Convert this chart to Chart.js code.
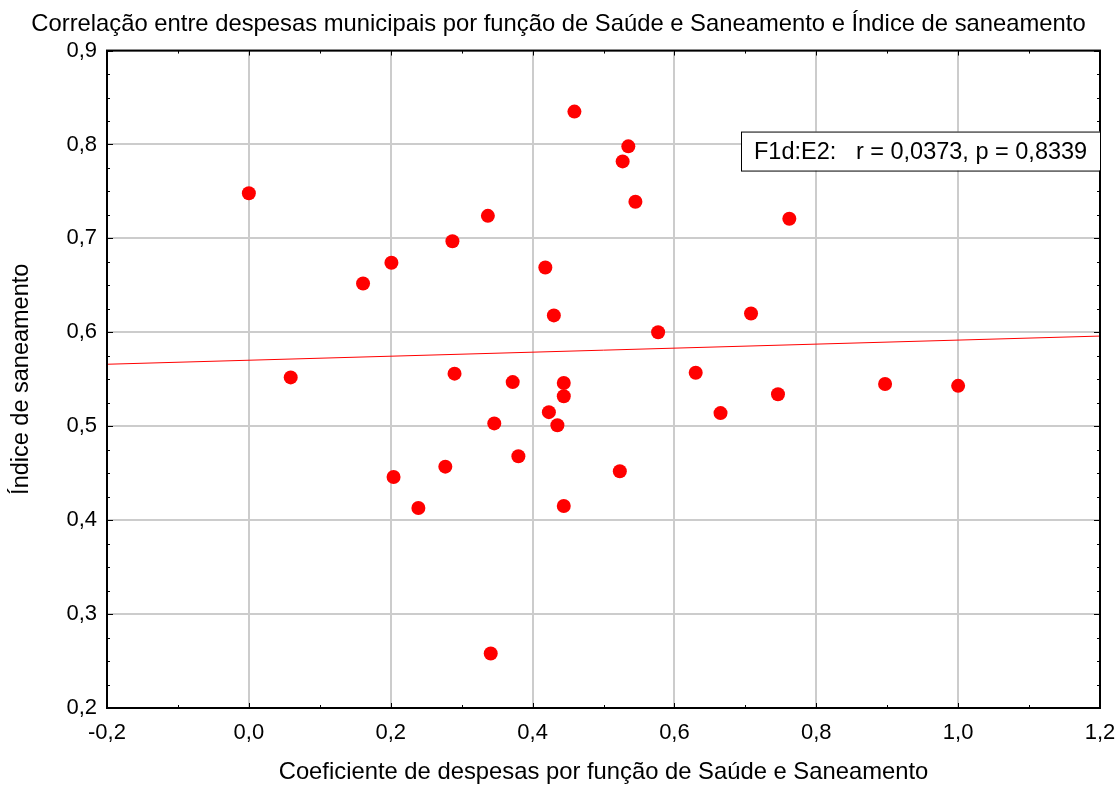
<!DOCTYPE html>
<html>
<head>
<meta charset="utf-8">
<script src="https://cdn.jsdelivr.net/npm/chart.js@4/dist/chart.umd.min.js"></script>
<style>
  html, body { margin: 0; padding: 0; background: #fff; }
  canvas { display: block; }
</style>
</head>
<body>
<canvas id="scatterChart" width="1117" height="787"></canvas>
<script>
// values
const xValues = [0.000, 0.059, 0.161, 0.201, 0.204, 0.239, 0.277, 0.287, 0.290, 0.337,
                 0.341, 0.346, 0.372, 0.380, 0.418, 0.423, 0.430, 0.435, 0.444, 0.444,
                 0.444, 0.459, 0.523, 0.527, 0.535, 0.545, 0.577, 0.630, 0.665, 0.708,
                 0.746, 0.762, 0.897, 1.000];
const yValues = [0.748, 0.552, 0.652, 0.674, 0.446, 0.413, 0.457, 0.697, 0.556, 0.724,
                 0.258, 0.503, 0.547, 0.468, 0.669, 0.515, 0.618, 0.501, 0.546, 0.532,
                 0.415, 0.835, 0.452, 0.782, 0.798, 0.739, 0.600, 0.557, 0.514, 0.620,
                 0.534, 0.721, 0.545, 0.543];
const fitX = [-0.2, 1.2];
const fitY = [0.566, 0.596];
const xTickLabels = ["-0,2", "0,0", "0,2", "0,4", "0,6", "0,8", "1,0", "1,2"];
const yTickLabels = ["0,2", "0,3", "0,4", "0,5", "0,6", "0,7", "0,8", "0,9"];
const statsText = "F1d:E2:   r = 0,0373, p = 0,8339";

const FONT = "'Liberation Sans', Arial, sans-serif";

// frame, inward ticks and the stats box
const framePlugin = {
    id: "frame",
    afterDraw(chart) {
        const { ctx, chartArea: a, scales } = chart;
        const x = scales.x, y = scales.y;
        ctx.save();
        ctx.strokeStyle = "#000";
        ctx.lineWidth = 1;
        ctx.beginPath();
        for (let v = -0.2; v <= 1.2001; v += 0.1) {
            const px = Math.round(x.getPixelForValue(v)) + 0.5;
            const major = Math.abs(Math.round(v * 10) % 2) === 0;
            const len = major ? 5 : 3;
            ctx.moveTo(px, a.bottom); ctx.lineTo(px, a.bottom - len);
            ctx.moveTo(px, a.top); ctx.lineTo(px, a.top + len);
        }
        for (let v = 0.2; v <= 0.9001; v += 0.025) {
            const py = Math.round(y.getPixelForValue(v)) + 0.5;
            const major = Math.abs(Math.round(v * 1000) % 100) < 1;
            const len = major ? 6 : 3;
            ctx.moveTo(a.left, py); ctx.lineTo(a.left + len, py);
            ctx.moveTo(a.right, py); ctx.lineTo(a.right - len, py);
        }
        ctx.stroke();

        ctx.lineWidth = 2;
        ctx.strokeRect(a.left, a.top, a.right - a.left, a.bottom - a.top);

        // stats box
        const bx = a.right - 359, by = a.top + 81, bw = 359, bh = 39;
        ctx.fillStyle = "#fff";
        ctx.fillRect(bx, by, bw, bh);
        ctx.lineWidth = 1;
        ctx.strokeRect(bx + 0.5, by + 0.5, bw, bh);
        ctx.fillStyle = "#000";
        ctx.font = "23.5px " + FONT;
        ctx.textBaseline = "middle";
        ctx.fillText(statsText, bx + 13, by + bh / 2 + 1);
        ctx.restore();
    }
};

document.addEventListener("DOMContentLoaded", () => {
    const ctx = document.getElementById("scatterChart").getContext("2d");

    const points = xValues.map((v, i) => ({ x: v, y: yValues[i] }));
    const fit = fitX.map((v, i) => ({ x: v, y: fitY[i] }));

    new Chart(ctx, {
        type: "scatter",
        data: {
            datasets: [
                {
                    data: points,
                    backgroundColor: "#ff0000",
                    borderWidth: 0,
                    pointRadius: 7,
                    pointHoverRadius: 7
                },
                {
                    type: "line",
                    data: fit,
                    borderColor: "#ff0000",
                    borderWidth: 1,
                    pointRadius: 0,
                    fill: false
                }
            ]
        },
        options: {
            responsive: false,
            animation: false,
            layout: { padding: { top: 7, right: 0, left: 0, bottom: 0 } },
            plugins: {
                legend: { display: false },
                tooltip: { enabled: false },
                title: {
                    display: true,
                    text: "Correlação entre despesas municipais por função de Saúde e Saneamento e Índice de saneamento",
                    color: "#000",
                    font: { family: FONT, size: 23.8, weight: "normal" },
                    padding: { top: 3, bottom: 12 }
                }
            },
            scales: {
                x: {
                    type: "linear",
                    min: -0.2,
                    max: 1.2,
                    afterFit: (s) => { s.height = 79; s.paddingRight = 17; },
                    ticks: {
                        stepSize: 0.2,
                        color: "#000",
                        padding: 12,
                        font: { family: FONT, size: 22 },
                        callback: (v, i) => xTickLabels[i]
                    },
                    grid: { color: "#cccccc", lineWidth: 2, drawTicks: false },
                    border: { display: false },
                    title: {
                        display: true,
                        text: "Coeficiente de despesas por função de Saúde e Saneamento",
                        color: "#000",
                        font: { family: FONT, size: 23.8 },
                        padding: { top: 0, bottom: 0 }
                    }
                },
                y: {
                    type: "linear",
                    min: 0.2,
                    max: 0.9,
                    afterFit: (s) => { s.width = 107; },
                    ticks: {
                        stepSize: 0.1,
                        color: "#000",
                        padding: 10,
                        font: { family: FONT, size: 22 },
                        callback: (v, i) => yTickLabels[i]
                    },
                    grid: { color: "#cccccc", lineWidth: 2, drawTicks: false },
                    border: { display: false },
                    title: {
                        display: true,
                        text: "Índice de saneamento",
                        color: "#000",
                        font: { family: FONT, size: 23.5 },
                        padding: { top: 7, bottom: 0 }
                    }
                }
            }
        },
        plugins: [framePlugin]
    });
});
</script>
</body>
</html>
